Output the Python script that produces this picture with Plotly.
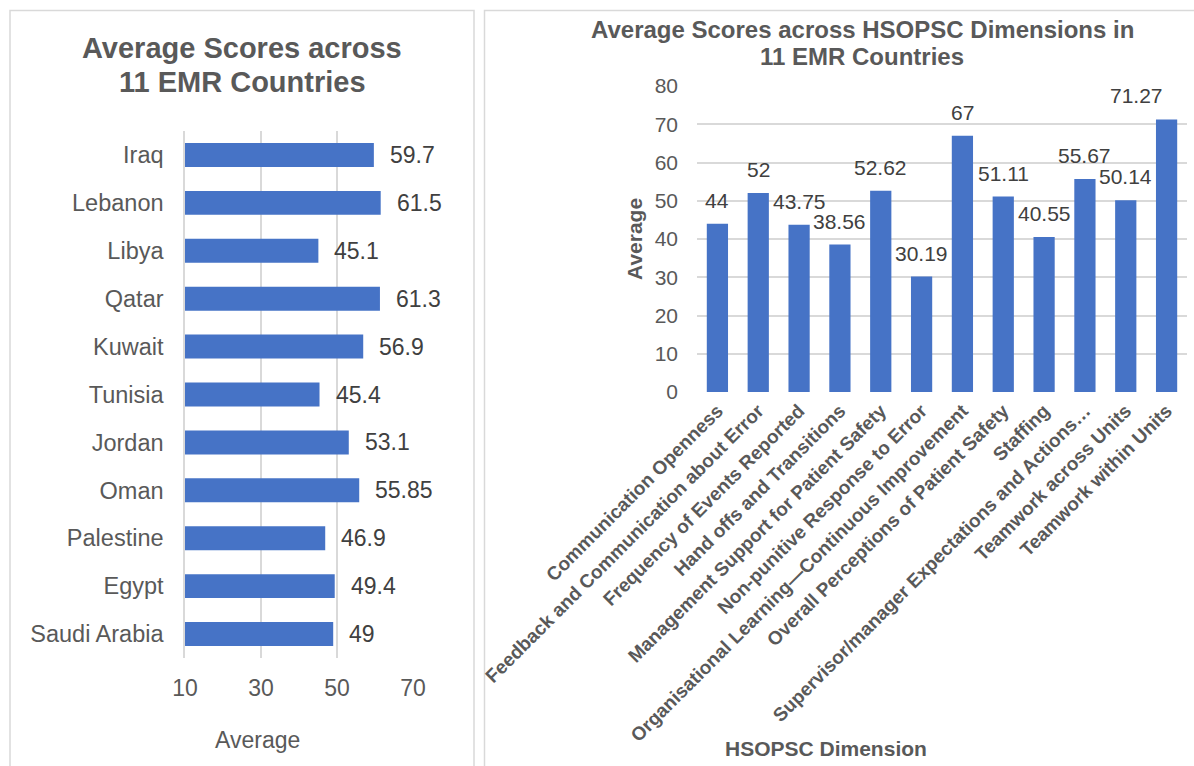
import plotly.graph_objects as go

W, H = 1194, 766

# Left panel: average score per country
countries = ["Iraq", "Lebanon", "Libya", "Qatar", "Kuwait", "Tunisia",
             "Jordan", "Oman", "Palestine", "Egypt", "Saudi Arabia"]
country_avg = [59.7, 61.5, 45.1, 61.3, 56.9, 45.4, 53.1, 55.85, 46.9, 49.4, 49]
country_ticks = [10, 30, 50, 70]

# Right panel: average score per HSOPSC dimension
dimensions = [
    "Communication Openness",
    "Feedback and Communication about Error",
    "Frequency of Events Reported",
    "Hand offs and Transitions",
    "Management Support for Patient Safety",
    "Non-punitive Response to Error",
    "Organisational Learning\u2014Continuous Improvement",
    "Overall Perceptions of Patient Safety",
    "Staffing",
    "Supervisor/manager Expectations and Actions\u2026",
    "Teamwork across Units",
    "Teamwork within Units",
]
dimension_avg = [44, 52, 43.75, 38.56, 52.62, 30.19, 67, 51.11, 40.55, 55.67, 50.14, 71.27]
dimension_ticks = [0, 10, 20, 30, 40, 50, 60, 70, 80]

FONT = "Arial, 'Liberation Sans', sans-serif"
GREY = "#595959"
GRID = "#d9d9d9"
BAR = "#4673c6"


def px_x(p):
    return p / W


def px_y(p):
    return 1 - p / H


fig = go.Figure()

fig.add_trace(go.Bar(
    x=country_avg, y=countries, orientation="h", width=0.5,
    marker=dict(color=BAR, line=dict(width=0)),
    xaxis="x", yaxis="y", showlegend=False, hoverinfo="x+y",
))

fig.add_trace(go.Bar(
    x=dimensions, y=dimension_avg, width=0.52,
    marker=dict(color=BAR, line=dict(width=0)),
    xaxis="x2", yaxis="y2", showlegend=False, hoverinfo="x+y",
))

annotations = []

# value labels
for c, v in zip(countries, country_avg):
    annotations.append(dict(
        x=v, y=c, xref="x", yref="y", text=f"{v:g}", showarrow=False,
        xanchor="left", yanchor="middle", xshift=14,
        font=dict(family=FONT, size=23, color="#404040"),
    ))
for i, (d, v) in enumerate(zip(dimensions, dimension_avg)):
    annotations.append(dict(
        x=d, y=v, xref="x2", yref="y2", text=f"{v:g}", showarrow=False,
        xanchor="center", yanchor="bottom", yshift=10,
        xshift=-30 if i == len(dimensions) - 1 else 0,
        font=dict(family=FONT, size=21, color="#404040"),
    ))

# titles
annotations += [
    dict(x=px_x(242), y=px_y(48), xref="paper", yref="paper",
         text="<b>Average Scores across</b>", showarrow=False,
         xanchor="center", yanchor="middle",
         font=dict(family=FONT, size=29, color=GREY)),
    dict(x=px_x(242), y=px_y(82), xref="paper", yref="paper",
         text="<b>11 EMR Countries</b>", showarrow=False,
         xanchor="center", yanchor="middle",
         font=dict(family=FONT, size=29, color=GREY)),
    dict(x=px_x(862), y=px_y(29), xref="paper", yref="paper",
         text="<b>Average Scores across HSOPSC Dimensions in</b>", showarrow=False,
         xanchor="center", yanchor="middle",
         font=dict(family=FONT, size=24, color=GREY)),
    dict(x=px_x(862), y=px_y(57), xref="paper", yref="paper",
         text="<b>11 EMR Countries</b>", showarrow=False,
         xanchor="center", yanchor="middle",
         font=dict(family=FONT, size=24, color=GREY)),
    # axis titles
    dict(x=px_x(257), y=px_y(740), xref="paper", yref="paper",
         text="Average", showarrow=False, xanchor="center", yanchor="middle",
         font=dict(family=FONT, size=23, color=GREY)),
    dict(x=px_x(635), y=px_y(239), xref="paper", yref="paper",
         text="<b>Average</b>", showarrow=False, textangle=-90,
         xanchor="center", yanchor="middle",
         font=dict(family=FONT, size=21, color=GREY)),
    dict(x=px_x(826), y=px_y(748), xref="paper", yref="paper",
         text="<b>HSOPSC Dimension</b>", showarrow=False,
         xanchor="center", yanchor="middle",
         font=dict(family=FONT, size=21, color=GREY)),
]

# panel borders
shapes = [
    dict(type="rect", xref="paper", yref="paper",
         x0=px_x(10), x1=px_x(474), y0=px_y(780), y1=px_y(10.5),
         line=dict(color=GRID, width=1.5), fillcolor="rgba(0,0,0,0)", layer="below"),
    dict(type="rect", xref="paper", yref="paper",
         x0=px_x(484.5), x1=px_x(1220), y0=px_y(780), y1=px_y(10.5),
         line=dict(color=GRID, width=1.5), fillcolor="rgba(0,0,0,0)", layer="below"),
]

fig.update_layout(
    width=W, height=H,
    margin=dict(l=0, r=0, t=0, b=0),
    paper_bgcolor="white", plot_bgcolor="white",
    bargap=0.5,
    annotations=annotations,
    shapes=shapes,
    xaxis=dict(
        domain=[px_x(185), px_x(413)], range=[10, 70],
        tickvals=country_ticks, showgrid=True, gridcolor=GRID, gridwidth=1.5,
        zeroline=False, showline=False, ticks="", ticklabelstandoff=14,
        tickfont=dict(family=FONT, size=23, color=GREY), automargin=False,
        anchor="y", fixedrange=True,
    ),
    yaxis=dict(
        domain=[px_y(658), px_y(131)], autorange="reversed",
        categoryorder="array", categoryarray=countries,
        showgrid=False, zeroline=False, showline=True, linecolor=GRID,
        linewidth=1.5, ticks="", ticklabelstandoff=15,
        tickfont=dict(family=FONT, size=23.5, color=GREY), automargin=False,
        anchor="x", fixedrange=True,
    ),
    xaxis2=dict(
        domain=[px_x(697), px_x(1187)],
        categoryorder="array", categoryarray=dimensions,
        showgrid=False, zeroline=False, showline=False, ticks="",
        tickangle=-45, ticklabelstandoff=3,
        tickfont=dict(family=FONT, size=19, color=GREY, weight="bold"),
        automargin=False, anchor="y2", fixedrange=True,
    ),
    yaxis2=dict(
        domain=[px_y(392), px_y(86)], range=[0, 80],
        tickvals=dimension_ticks, showgrid=True, gridcolor=GRID, gridwidth=1.5,
        zeroline=False, showline=False, ticks="", ticklabelstandoff=18,
        tickfont=dict(family=FONT, size=21, color=GREY), automargin=False,
        anchor="x2", fixedrange=True,
    ),
)

fig.write_html("out.html")
